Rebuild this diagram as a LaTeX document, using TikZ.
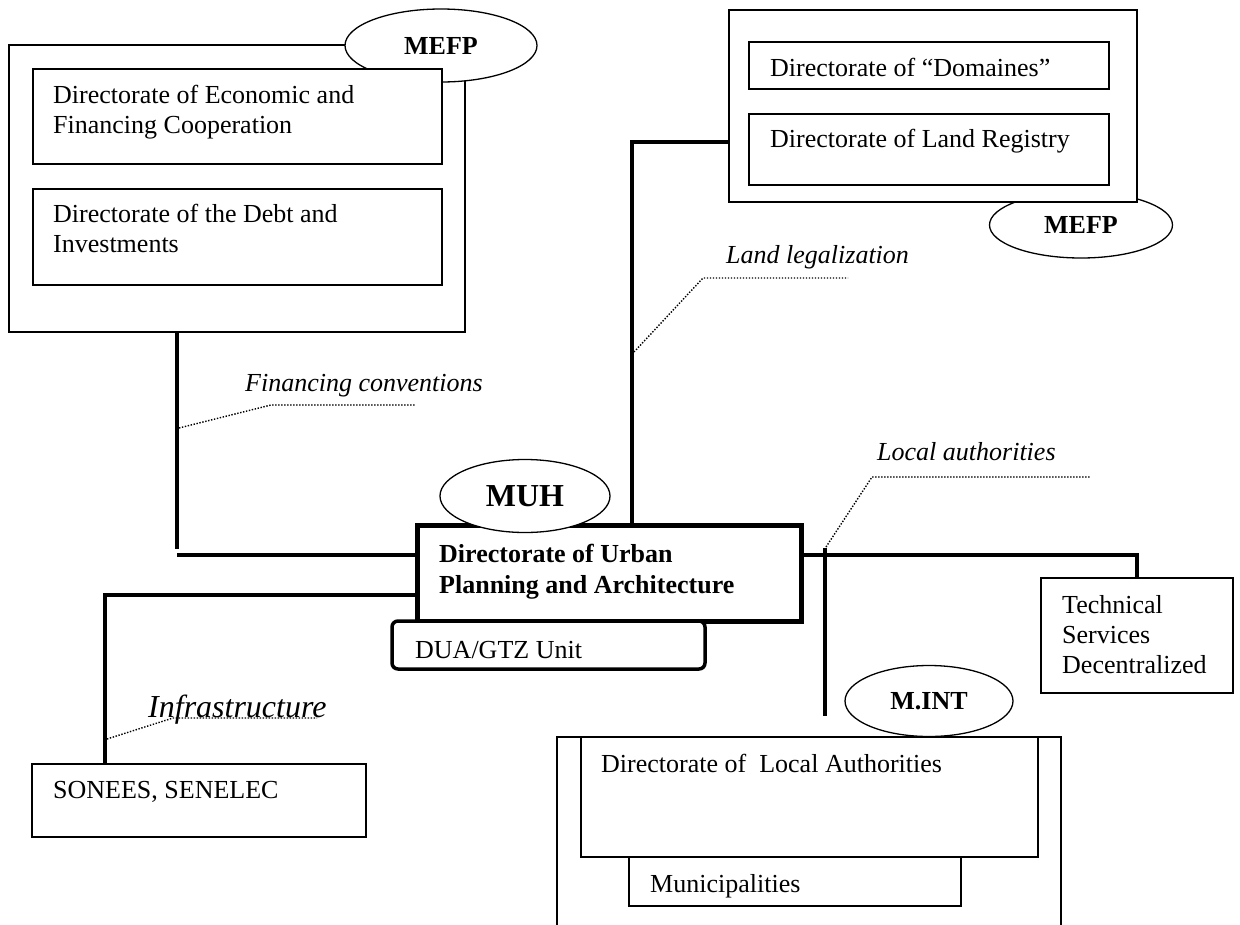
\documentclass[tikz,border=0pt]{standalone}
\usepackage{fontspec}
\setmainfont{Liberation Serif}
\usetikzlibrary{shapes.geometric}
\newcommand\bodysize{\fontsize{26}{30}\selectfont}

\begin{document}
\begin{tikzpicture}[x=1pt, y=-1pt,
  box/.style={draw, fill=white, line width=1.3pt, inner sep=0pt, outer sep=0pt, anchor=north west},
  org/.style={draw, fill=white, ellipse, line width=1.3pt, inner sep=0pt, font=\bodysize\bfseries},
  txt/.style={anchor=north west, inner sep=0pt, align=left, font=\bodysize},
  tag/.style={txt, font=\bodysize\itshape},
  link/.style={line width=4pt},
  lead/.style={line width=1.4pt, dash pattern=on 1.4pt off 1.6pt}]
\useasboundingbox (0,0) rectangle (1240,924);

\node[box, minimum width=456pt, minimum height=287pt] (mefpL) at (9,45) {};
\node[org, minimum width=192pt, minimum height=73pt] (mefpA) at (441,45.5) {MEFP};
\node[box, minimum width=409pt, minimum height=95pt] (decf) at (33,69) {};
\node[box, minimum width=409pt, minimum height=96pt] (debt) at (33,189) {};
\node[txt] (decft) at (53,85) {Directorate of Economic and\\Financing Cooperation};
\node[txt] (debtt) at (53,204) {Directorate of the Debt and\\Investments};

\node[org, minimum width=183pt, minimum height=66pt] (mefpB) at (1081,225) {MEFP};
\node[box, minimum width=408pt, minimum height=192pt] (mefpR) at (729,10) {};
\node[box, minimum width=360pt, minimum height=47pt] (dom) at (749,42) {};
\node[box, minimum width=360pt, minimum height=71pt] (cad) at (749,114) {};
\node[txt] (domt) at (770,58) {Directorate of “Domaines”};
\node[txt] (cadt) at (770,129) {Directorate of Land Registry};

\node[box, minimum width=192pt, minimum height=115pt] (tsd) at (1041,578) {};
\node[txt] (tsdt) at (1062,595) {Technical\\Services\\Decentralized};
\node[box, minimum width=334pt, minimum height=73pt] (sonees) at (32,764) {};
\node[txt] (soneest) at (53,781) {SONEES, SENELEC};

\node[box, minimum width=504pt, minimum height=198pt] (minto) at (557,737) {};
\node[box, minimum width=457pt, minimum height=120pt] (dlaut) at (581,737) {};
\node[box, minimum width=332pt, minimum height=49pt] (muni) at (629,857) {};
\node[txt] (dlautt) at (601,754) {Directorate of\ \ Local Authorities};
\node[txt] (munit) at (650,874) {Municipalities};
\node[org, minimum width=168pt, minimum height=71pt] (mint) at (929,701) {M.INT};

\coordinate (fc) at (177,555);
\coordinate (ic) at (105,595);
\coordinate (lc) at (632,142);
\coordinate (rc) at (1137,555);
\coordinate (lat) at (825,548);
\coordinate (lab) at (825,716);
\draw[link] (fc |- mefpL.south) -- (fc |- 0,549) (fc) -- (fc -| 417,0);
\draw[link] (ic |- sonees.north) -- (ic) -- (ic -| 417,0);
\draw[link] (lc -| mefpR.west) -- (lc) -- (lc |- 0,525);
\draw[link] (rc -| 801,0) -- (rc) -- (rc |- tsd.north);
\draw[link] (lat) -- (lab);

\node[box, line width=5pt, minimum width=384pt, minimum height=96pt] (dupa) at (417,525) {};
\node[org, minimum width=170pt, minimum height=73pt, font=\fontsize{32}{36}\selectfont\bfseries] (muh) at (525,496) {MUH};
\node[txt, font=\fontsize{26}{31}\selectfont\bfseries] (dupat) at (439,544) {Directorate of Urban\\Planning and Architecture};
\node[box, line width=3.5pt, rounded corners=6pt, minimum width=313pt, minimum height=48pt] (dua) at (392,621) {};
\node[txt] (duat) at (415,641) {DUA/GTZ Unit};

\draw[lead] (179,428) -- (271,405) -- (416,405);
\draw[lead] (634,352) -- (703,278) -- (848,278);
\draw[lead] (826,547) -- (872,477) -- (1090,477);
\draw[lead] (107,739) -- (173,718) -- (317,718);
\node[tag] (fin) at (245,374) {Financing conventions};
\node[tag] (land) at (726,245) {Land legalization};
\node[tag] (local) at (877,442) {Local authorities};
\node[tag, font=\fontsize{32}{36}\selectfont\itshape] (infra) at (148,695) {Infrastructure};
\end{tikzpicture}
\end{document}
